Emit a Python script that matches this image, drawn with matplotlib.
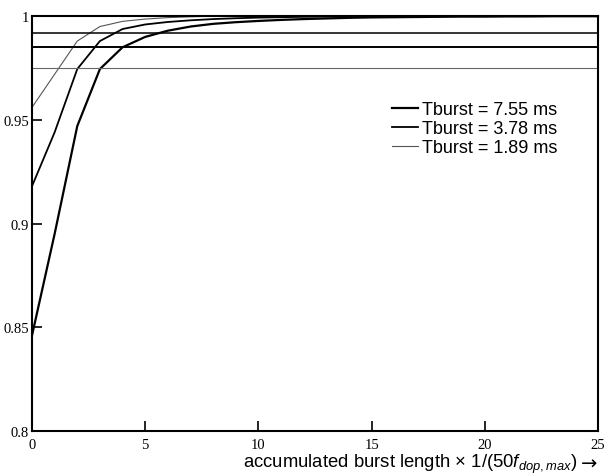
import numpy as np
import matplotlib
matplotlib.use("Agg")
import matplotlib.pyplot as plt

plt.rcParams['mathtext.fontset'] = 'custom'
plt.rcParams['mathtext.rm'] = 'Liberation Sans'
plt.rcParams['mathtext.it'] = 'Liberation Sans:italic'

# accumulated burst length (units of 1/(50 f_dop,max))
x = np.arange(0, 26)

prob_755 = [0.846, 0.895, 0.947, 0.9745, 0.985, 0.990, 0.993, 0.995, 0.9963, 0.9971,
            0.9977, 0.9982, 0.9986, 0.9989, 0.9992, 0.9994, 0.9995, 0.9996, 0.9997, 0.9998,
            0.9998, 0.9999, 0.9999, 1.0, 1.0, 1.0]
prob_378 = [0.918, 0.944, 0.9745, 0.988, 0.9938, 0.996, 0.9972, 0.998, 0.9986, 0.999,
            0.9993, 0.9995, 0.9997, 0.9998, 0.9999, 1.0, 1.0, 1.0, 1.0, 1.0,
            1.0, 1.0, 1.0, 1.0, 1.0, 1.0]
prob_189 = [0.956, 0.972, 0.988, 0.995, 0.9975, 0.9986, 0.9993, 0.9997, 1.0, 1.0,
            1.0, 1.0, 1.0, 1.0, 1.0, 1.0, 1.0, 1.0, 1.0, 1.0,
            1.0, 1.0, 1.0, 1.0, 1.0, 1.0]

labels = ["Tburst = 7.55 ms", "Tburst = 3.78 ms", "Tburst = 1.89 ms"]
ref_levels = [0.992, 0.985, 0.975]

yticks = [0.8, 0.85, 0.9, 0.95, 1.0]
ytick_labels = ["0.8", "0.85", "0.9", "0.95", "1"]
xticks = [0, 5, 10, 15, 20, 25]

fig = plt.figure(figsize=(6.09, 4.77), dpi=100)
ax = fig.add_axes([0.0525, 0.0943, 0.9295, 0.8697])

styles = [dict(color="black", lw=1.6), dict(color="black", lw=1.3), dict(color="#555555", lw=0.8)]
for vals, lab, st in zip([prob_755, prob_378, prob_189], labels, styles):
    ax.plot(x, vals, label=lab, **st)

ref_styles = [dict(color="black", lw=1.1), dict(color="black", lw=1.4), dict(color="#666666", lw=0.8)]
for lv, st in zip(ref_levels, ref_styles):
    ax.axhline(lv, **st)

ax.set_xlim(0, 25)
ax.set_ylim(0.8, 1.0)
ax.set_xticks(xticks)
ax.set_yticks(yticks)
ax.set_yticklabels(ytick_labels)
ax.tick_params(direction="in", length=7.5, width=1.2, labelsize=10.5, pad=2)
ax.tick_params(axis="x", pad=5)
for lbl in ax.get_xticklabels() + ax.get_yticklabels():
    lbl.set_family("Liberation Serif")
for sp in ax.spines.values():
    sp.set_linewidth(1.5)

ax.legend(loc="upper left", bbox_to_anchor=(383 / 609, 1 - 93 / 477),
          bbox_transform=fig.transFigure, frameon=False, borderpad=0,
          handlelength=1.45, handletextpad=0.2, labelspacing=0.12,
          prop={"family": "Liberation Sans", "size": 13})

fig.text(578 / 609, 1 - 464 / 477,
         r"accumulated burst length × 1/(50$f_{dop,max}$)",
         ha="right", va="center", fontsize=13.3, family="Liberation Sans")
fig.text(581 / 609, 1 - 464 / 477, "→", ha="left", va="center",
         fontsize=14, family="DejaVu Sans")

fig.savefig("out.png", dpi=100)
